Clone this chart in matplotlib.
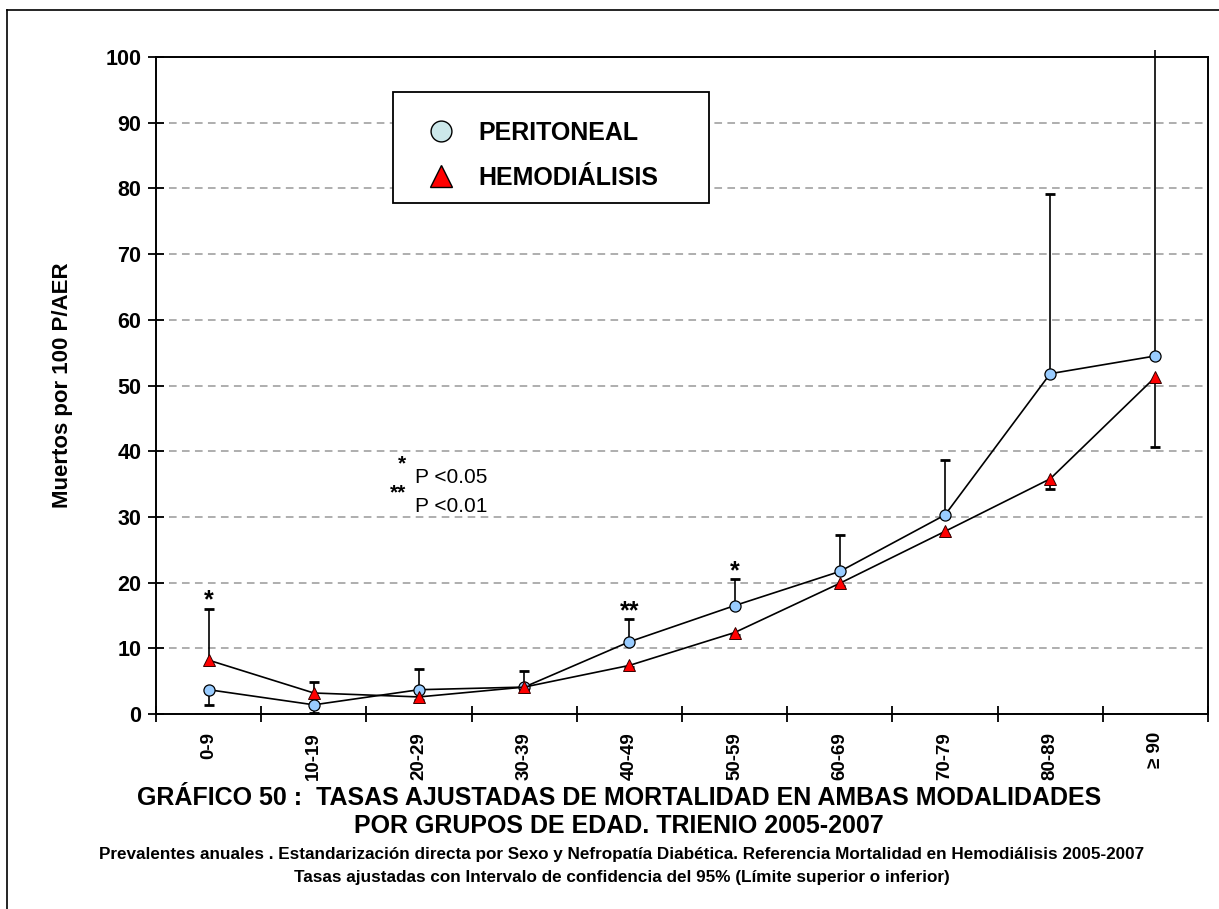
import numpy as np
import matplotlib
matplotlib.use('Agg')
import matplotlib.pyplot as plt
from matplotlib.lines import Line2D
from matplotlib.patches import Rectangle

plt.rcParams['font.family'] = ['Liberation Sans', 'DejaVu Sans']

# Age groups and adjusted mortality rates (deaths per 100 patient-years)
age_groups = ['0-9', '10-19', '20-29', '30-39', '40-49',
              '50-59', '60-69', '70-79', '80-89', '\u2265 90']
peritoneal = [3.7, 1.4, 3.7, 4.1, 11.0, 16.5, 21.7, 30.3, 51.8, 54.5]
hemodialisis = [8.2, 3.2, 2.6, 4.1, 7.4, 12.4, 19.9, 27.8, 35.8, 51.3]

# 95% CI: only one limit is drawn per point (None = not drawn)
peritoneal_upper = [None, None, 6.9, 6.6, 14.4, 20.5, 27.3, 38.6, 79.2, 101.0]
peritoneal_lower = [1.4, 0.2, None, None, None, None, None, None, None, None]
hemo_upper = [16.0, 4.9, None, None, None, None, None, None, None, None]
hemo_lower = [None, None, 2.2, 3.8, 7.1, 12.1, 19.5, 27.3, 34.2, 40.6]

# significance marks
sig_marks = ['*', '', '', '', '**', '*', '', '', '', '']

title1 = 'GR\u00c1FICO 50 :  TASAS AJUSTADAS DE MORTALIDAD EN AMBAS MODALIDADES'
title2 = 'POR GRUPOS DE EDAD. TRIENIO 2005-2007'
sub1 = ('Prevalentes anuales . Estandarizaci\u00f3n directa por Sexo y Nefropat\u00eda '
        'Diab\u00e9tica. Referencia Mortalidad en Hemodi\u00e1lisis 2005-2007')
sub2 = 'Tasas ajustadas con Intervalo de confidencia del 95% (L\u00edmite superior o inferior)'

fig = plt.figure(figsize=(12.19, 9.09), dpi=100)
ax = fig.add_axes([0.128, 0.2145, 0.863, 0.7228])

x = np.arange(len(age_groups))


def draw_ci(values, limits, upper, lw=1.2):
    idx = [i for i, v in enumerate(limits) if v is not None]
    xs = x[idx]
    ys = np.array([values[i] for i in idx])
    lim = np.array([limits[i] for i in idx])
    zeros = np.zeros(len(idx))
    if upper:
        yerr = [zeros, lim - ys]
    else:
        yerr = [ys - lim, zeros]
    eb = ax.errorbar(xs, ys, yerr=yerr, fmt='none', ecolor='black',
                     elinewidth=lw, capsize=3.4, capthick=2.0, zorder=2)
    _, caps, bars = eb
    caps[0 if upper else 1].set_visible(False)
    shown = caps[1 if upper else 0]
    shown.set_markevery([k for k, v in enumerate(lim) if v <= 100])
    for art in list(caps) + list(bars):
        art.set_clip_on(False)


draw_ci(peritoneal, peritoneal_upper, True)
draw_ci(peritoneal, peritoneal_lower, False)
draw_ci(hemodialisis, hemo_upper, True)
draw_ci(hemodialisis, hemo_lower, False)

ax.plot(x, peritoneal, '-', color='black', lw=1.2, marker='o', ms=8,
        mfc='#99CCFF', mec='black', mew=0.9, zorder=3)
ax.plot(x, hemodialisis, '-', color='black', lw=1.2, marker='^', ms=9,
        mfc='#FF0000', mec='#330000', mew=0.7, zorder=3)

# significance asterisks above the upper limits
for i, mark in enumerate(sig_marks):
    if not mark:
        continue
    tops = [v for v in (peritoneal_upper[i], hemo_upper[i]) if v is not None]
    ax.annotate(mark, (x[i], max(tops)), xytext=(0, 1), textcoords='offset points',
                ha='center', va='baseline', fontsize=18, fontweight='bold')

# p-value notes
ax.text(1.873, 37.2, '*', ha='right', va='baseline', fontsize=15, fontweight='bold')
ax.text(1.958, 35.2, 'P <0.05', ha='left', va='baseline', fontsize=15)
ax.text(1.873, 32.8, '**', ha='right', va='baseline', fontsize=15, fontweight='bold')
ax.text(1.958, 30.7, 'P <0.01', ha='left', va='baseline', fontsize=15)

# axes styling
ax.set_xlim(-0.5, len(age_groups) - 0.5)
ax.set_ylim(0, 100)
ax.set_yticks(np.arange(0, 101, 10))
ax.yaxis.grid(True, linestyle=(0, (5, 3.5)), color='#999999', lw=1.1)
ax.set_axisbelow(True)
for s in ax.spines.values():
    s.set_linewidth(1.4)
    s.set_color('black')

ax.tick_params(axis='y', direction='inout', length=11, width=1.3,
               labelsize=15.5, pad=5)
for lbl in ax.get_yticklabels():
    lbl.set_fontweight('bold')

ax.set_xticks(x)
ax.set_xticklabels(age_groups, rotation=90, fontsize=13.5, fontweight='bold')
ax.tick_params(axis='x', which='major', length=0, pad=13)
ax.set_xticks(np.arange(-0.5, len(age_groups), 1), minor=True)
ax.tick_params(axis='x', which='minor', direction='inout', length=11, width=1.3)

ax.set_ylabel('Muertos por 100 P/AER', fontsize=16, fontweight='bold')
ax.yaxis.set_label_coords(-0.079, 0.5)

# legend with a squared box
ax.add_patch(Rectangle((0.2253, 0.7778), 0.3004, 0.169, transform=ax.transAxes,
                       facecolor='white', edgecolor='black', lw=1.3, zorder=4))
handles = [
    Line2D([], [], linestyle='none', marker='o', ms=15, mfc='#CCE8EA',
           mec='black', mew=1.0),
    Line2D([], [], linestyle='none', marker='^', ms=16, mfc='#FF0000',
           mec='black', mew=1.0),
]
leg = ax.legend(handles, ['PERITONEAL', 'HEMODI\u00c1LISIS'], loc='upper left',
                bbox_to_anchor=(0.2253, 0.9467), frameon=False, borderpad=0.65,
                handlelength=1.5, handletextpad=0.75, labelspacing=0.85,
                prop={'size': 18, 'weight': 'bold'})
leg.set_zorder(5)

# titles under the chart
fig.text(0.508, 0.122, title1, ha='center', va='center', fontsize=18, fontweight='bold')
fig.text(0.508, 0.091, title2, ha='center', va='center', fontsize=18, fontweight='bold')
fig.text(0.510, 0.0605, sub1, ha='center', va='center', fontsize=12.3, fontweight='bold')
fig.text(0.510, 0.0350, sub2, ha='center', va='center', fontsize=12.3, fontweight='bold')

# outer frame (left and top edges visible)
fig.add_artist(Line2D([7 / 1219, 7 / 1219], [0, 1 - 10 / 909], color='black',
                      lw=1.2, transform=fig.transFigure))
fig.add_artist(Line2D([7 / 1219, 1], [1 - 10 / 909, 1 - 10 / 909], color='black',
                      lw=1.2, transform=fig.transFigure))

fig.savefig('out.png', dpi=100)
